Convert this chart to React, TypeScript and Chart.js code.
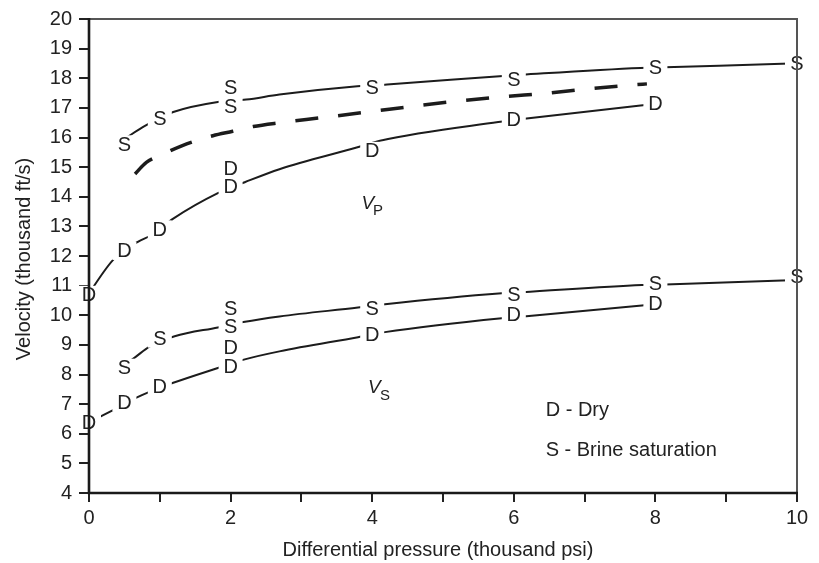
import React, { useEffect, useRef } from 'react';
import { Chart, registerables } from 'chart.js';

Chart.register(...registerables);

const FONT = '"Liberation Sans", Arial, Helvetica, sans-serif';

// Axis
const xMin = 0;
const xMax = 10;
const yMin = 4;
const yMax = 20;
const xTitle = 'Differential pressure (thousand psi)';
const yTitle = 'Velocity (thousand ft/s)';

// Vp, brine saturated (S) — measured points
const vpSatMarkX = [0.5, 1, 2, 2, 4, 6, 8, 10];
const vpSatMarkY = [15.77, 16.64, 17.68, 17.04, 17.68, 17.95, 18.37, 18.51];
// Vp, brine saturated — fitted curve
const vpSatCurveX = [0.5, 0.79, 1.19, 1.82, 2.22, 2.69, 3.79, 4.21, 5.8, 6.11, 7.79, 8.14, 9.79, 10];
const vpSatCurveY = [15.95, 16.39, 16.86, 17.2, 17.28, 17.45, 17.73, 17.79, 18.07, 18.12, 18.35, 18.37, 18.49, 18.5];

// Vp dashed curve
const vpDashX = [0.65, 0.81, 1.05, 1.31, 1.75, 2.03, 2.32, 2.7, 3.29, 4.0, 4.59, 5.25, 5.88, 6.49, 7.08, 7.7, 7.88];
const vpDashY = [14.77, 15.16, 15.44, 15.72, 16.06, 16.21, 16.37, 16.5, 16.67, 16.88, 17.06, 17.24, 17.38, 17.5, 17.65, 17.78, 17.81];

// Vp, dry (D) — measured points
const vpDryMarkX = [0, 0.5, 1, 2, 2, 4, 6, 8];
const vpDryMarkY = [10.69, 12.17, 12.9, 14.97, 14.34, 15.55, 16.61, 17.15];
// Vp, dry — fitted curve
const vpDryCurveX = [0, 0.08, 0.36, 0.69, 0.88, 1.19, 1.82, 2.2, 2.69, 3.78, 4.11, 5.78, 6.18, 7.79, 8];
const vpDryCurveY = [10.7, 11.02, 11.92, 12.48, 12.7, 13.26, 14.12, 14.49, 14.93, 15.66, 15.89, 16.52, 16.64, 17.08, 17.13];

// Vs, brine saturated (S) — measured points
const vsSatMarkX = [0.5, 1, 2, 2, 4, 6, 8, 10];
const vsSatMarkY = [8.23, 9.21, 10.22, 9.62, 10.24, 10.71, 11.06, 11.3];
// Vs, brine saturated — fitted curve
const vsSatCurveX = [0.5, 0.65, 0.86, 1.21, 1.82, 2.18, 2.69, 3.8, 4.18, 5.83, 6.12, 7.81, 8.14, 9.79, 10];
const vsSatCurveY = [8.32, 8.58, 8.95, 9.29, 9.59, 9.77, 9.96, 10.26, 10.37, 10.74, 10.78, 11.02, 11.04, 11.17, 11.19];

// Vs, dry (D) — measured points
const vsDryMarkX = [0, 0.5, 1, 2, 2, 4, 6, 8];
const vsDryMarkY = [6.38, 7.05, 7.61, 8.9, 8.28, 9.35, 10.02, 10.41];
// Vs, dry — fitted curve
const vsDryCurveX = [0, 0.18, 0.34, 0.67, 0.88, 1.19, 1.82, 2.2, 2.69, 3.8, 4.18, 5.83, 6.14, 7.81, 8];
const vsDryCurveY = [6.38, 6.6, 6.8, 7.22, 7.44, 7.72, 8.22, 8.51, 8.78, 9.26, 9.43, 9.9, 9.96, 10.33, 10.38];

// Text annotations (data coordinates of left baseline)
const annotVP = { x: 3.85, y: 13.59, main: 'V', sub: 'P', subX: 4.01, subY: 13.39 };
const annotVS = { x: 3.94, y: 7.39, main: 'V', sub: 'S', subX: 4.11, subY: 7.13 };
const legendLines = ['D - Dry', 'S - Brine saturation'];
const legendX = [6.45, 6.45];
const legendY = [6.61, 5.26];

const toPts = (xs: number[], ys: number[]) => xs.map((x, i) => ({ x, y: ys[i] }));

const LINE_COLOR = '#1c1c1c';

function curve(xs: number[], ys: number[], dashed = false) {
  return {
    type: 'line',
    data: toPts(xs, ys),
    borderColor: LINE_COLOR,
    borderWidth: dashed ? 3.5 : 2,
    borderDash: dashed ? [23, 20] : [],
    pointRadius: 0,
    fill: false,
    cubicInterpolationMode: 'monotone',
    clip: false,
  } as any;
}

function marks(xs: number[], ys: number[], letter: string) {
  return {
    type: 'line',
    data: toPts(xs, ys),
    showLine: false,
    pointRadius: 0,
    letter,
  } as any;
}

const overlayPlugin = {
  id: 'overlay',
  afterDatasetsDraw(chart: any) {
    const ctx = chart.ctx as CanvasRenderingContext2D;
    const items: { x: number; y: number; t: string }[] = [];
    chart.data.datasets.forEach((ds: any, i: number) => {
      if (!ds.letter) return;
      const meta = chart.getDatasetMeta(i);
      meta.data.forEach((pt: any) => items.push({ x: pt.x, y: pt.y, t: ds.letter }));
    });
    ctx.save();
    ctx.fillStyle = '#ffffff';
    items.forEach((it) => ctx.fillRect(it.x - 12, it.y - 9, 24, 18));
    ctx.font = `20px ${FONT}`;
    ctx.textAlign = 'center';
    ctx.textBaseline = 'middle';
    ctx.fillStyle = '#222';
    items.forEach((it) => ctx.fillText(it.t, it.x, it.y + 1));

    const a = chart.chartArea;
    // top & right frame (thin, grey)
    ctx.strokeStyle = '#555';
    ctx.lineWidth = 2;
    ctx.beginPath();
    ctx.moveTo(a.left, a.top);
    ctx.lineTo(a.right, a.top);
    ctx.lineTo(a.right, a.bottom);
    ctx.stroke();
    // left & bottom axes (dark)
    ctx.strokeStyle = '#1a1a1a';
    ctx.lineWidth = 2.6;
    ctx.beginPath();
    ctx.moveTo(a.left, a.top - 1);
    ctx.lineTo(a.left, a.bottom);
    ctx.lineTo(a.right + 1, a.bottom);
    ctx.stroke();

    // annotations
    const xs = chart.scales.x;
    const ys = chart.scales.y;
    ctx.textAlign = 'left';
    ctx.textBaseline = 'alphabetic';
    ctx.fillStyle = '#222';
    [annotVP, annotVS].forEach((an) => {
      ctx.font = `italic 19px ${FONT}`;
      ctx.fillText(an.main, xs.getPixelForValue(an.x), ys.getPixelForValue(an.y));
      ctx.font = `15px ${FONT}`;
      ctx.fillText(an.sub, xs.getPixelForValue(an.subX), ys.getPixelForValue(an.subY));
    });
    ctx.font = `20px ${FONT}`;
    legendLines.forEach((t, i) => {
      ctx.fillText(t, xs.getPixelForValue(legendX[i]), ys.getPixelForValue(legendY[i]));
    });

    // axis titles
    ctx.font = `20px ${FONT}`;
    ctx.textAlign = 'center';
    ctx.fillText(xTitle, 438, 556);
    ctx.save();
    ctx.translate(29.5, 259);
    ctx.rotate(-Math.PI / 2);
    ctx.fillText(yTitle, 0, 0);
    ctx.restore();
    ctx.restore();
  },
};

export default function App() {
  const ref = useRef<HTMLCanvasElement | null>(null);
  useEffect(() => {
    if (!ref.current) return;
    Chart.defaults.font.family = FONT;
    const chart = new Chart(ref.current, {
      type: 'line',
      data: {
        datasets: [
          curve(vpSatCurveX, vpSatCurveY),
          curve(vpDashX, vpDashY, true),
          curve(vpDryCurveX, vpDryCurveY),
          curve(vsSatCurveX, vsSatCurveY),
          curve(vsDryCurveX, vsDryCurveY),
          marks(vpSatMarkX, vpSatMarkY, 'S'),
          marks(vpDryMarkX, vpDryMarkY, 'D'),
          marks(vsSatMarkX, vsSatMarkY, 'S'),
          marks(vsDryMarkX, vsDryMarkY, 'D'),
        ],
      },
      options: {
        responsive: false,
        animation: false,
        layout: { padding: { top: 16, right: 22, left: 0, bottom: 0 } },
        plugins: {
          legend: { display: false },
          tooltip: { enabled: false },
        },
        scales: {
          x: {
            type: 'linear',
            min: xMin,
            max: xMax,
            afterFit: (s: any) => {
              s.height = 70;
            },
            border: { display: false },
            grid: {
              drawOnChartArea: false,
              drawTicks: true,
              tickLength: 9,
              color: '#222',
              lineWidth: 2,
            },
            ticks: {
              stepSize: 1,
              padding: 4,
              color: '#222',
              font: { size: 20, family: FONT },
              maxRotation: 0,
              autoSkip: false,
              callback: (v: any) => (Number(v) % 2 === 0 ? String(v) : ''),
            },
          },
          y: {
            type: 'linear',
            min: yMin,
            max: yMax,
            afterFit: (s: any) => {
              s.width = 89;
            },
            border: { display: false },
            grid: {
              drawOnChartArea: false,
              drawTicks: true,
              tickLength: 10,
              color: '#222',
              lineWidth: 2,
            },
            ticks: {
              stepSize: 1,
              padding: 7,
              color: '#222',
              font: { size: 20, family: FONT },
              autoSkip: false,
            },
          },
        },
      } as any,
      plugins: [overlayPlugin],
    });
    return () => chart.destroy();
  }, []);
  return (
    <div style={{ position: 'absolute', left: 0, top: 0, width: 819, height: 563, background: '#fff' }}>
      <canvas ref={ref} width={819} height={563} style={{ width: 819, height: 563, display: 'block' }} />
    </div>
  );
}
